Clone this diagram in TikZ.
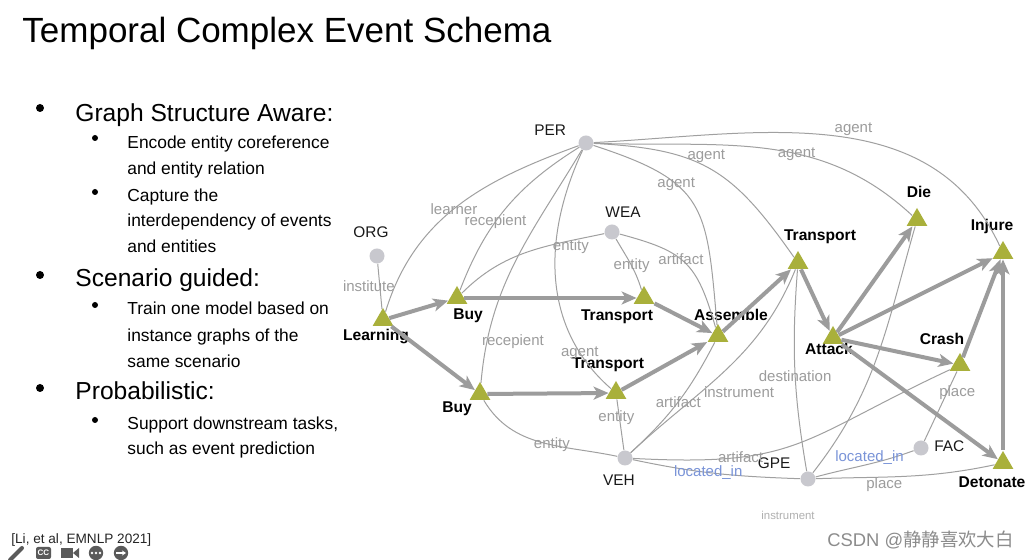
\documentclass[tikz,border=0pt]{standalone}
\usepackage{fontspec}
\setmainfont{Liberation Sans}
\newfontfamily\cjkfont{Noto Sans CJK SC}
\usepackage{tikz}
\usetikzlibrary{positioning, arrows.meta, shapes.geometric}
\definecolor{evgreen}{HTML}{A9B03B}
\definecolor{entgray}{HTML}{C8C8CE}
\definecolor{relgray}{HTML}{A0A0A0}
\definecolor{labgray}{HTML}{9C9C9C}
\definecolor{seqgray}{HTML}{9C9C9C}
\definecolor{locblue}{HTML}{7A94D8}
\definecolor{icongray}{HTML}{5A5A5A}

\begin{document}
\begin{tikzpicture}[x=0.5pt, y=-0.5pt,
	% Estilo para los eventos (triangulos)
	eventbox/.style={
		regular polygon,
		regular polygon sides=3,
		fill=evgreen,
		inner sep=0pt,
		minimum size=12pt
	},
	eventlabel/.style={
		inner sep=1pt,
		font=\fontsize{7.8}{9}\selectfont\bfseries
	},
	% Estilo para las entidades (circulos)
	entitybox/.style={
		circle,
		fill=entgray,
		inner sep=0pt,
		minimum size=7.5pt
	},
	entitylabel/.style={
		inner sep=1pt,
		text=black!90,
		font=\fontsize{7.7}{9}\selectfont
	},
	% Estilo para las relaciones entidad-evento
	relline/.style={
		draw=relgray,
		line width=0.5pt
	},
	rellabel/.style={
		inner sep=1pt,
		text=labgray,
		font=\fontsize{7.5}{9}\selectfont
	},
	loclabel/.style={
		rellabel,
		text=locblue
	},
	% Estilo para el orden temporal
	seqarrow/.style={
		draw=seqgray,
		line width=2pt,
		-{Stealth[length=7.5pt, width=6.5pt, inset=2pt]}
	},
	% Estilo para el texto de la izquierda
	titletext/.style={anchor=base west, inner sep=0pt, font=\fontsize{17.5}{20}\selectfont},
	itemtext/.style={anchor=base west, inner sep=0pt, font=\fontsize{12.3}{15}\selectfont},
	subtext/.style={anchor=base west, inner sep=0pt, font=\fontsize{8.7}{13}\selectfont},
	bigdot/.style={circle, fill=black, inner sep=0pt, minimum size=4pt},
	smalldot/.style={circle, fill=black, inner sep=0pt, minimum size=3pt}
	]
	
	\useasboundingbox (0,0) rectangle (1030,560);
	\fill[white] (0,0) rectangle (1030,560);
	
	% --- Titulo y lista ---
	\node[titletext] (title) at (22,43) {Temporal Complex Event Schema};
	
	\node[bigdot] (b1) at (40,108) {};
	\node[itemtext] (i1) at (75,122) {Graph Structure Aware:};
	\node[smalldot] (b1a) at (95,138) {};
	\node[subtext] (s1a) at (127,149) {Encode entity coreference};
	\node[subtext] (s1b) at (127,175) {and entity relation};
	\node[smalldot] (b1b) at (95,192) {};
	\node[subtext] (s1c) at (127,202) {Capture the};
	\node[subtext] (s1d) at (127,227) {interdependency of events};
	\node[subtext] (s1e) at (127,253) {and entities};
	
	\node[bigdot] (b2) at (40,275) {};
	\node[itemtext] (i2) at (75,287) {Scenario guided:};
	\node[smalldot] (b2a) at (95,305) {};
	\node[subtext] (s2a) at (127,315) {Train one model based on};
	\node[subtext] (s2b) at (127,342) {instance graphs of the};
	\node[subtext] (s2c) at (127,368) {same scenario};
	
	\node[bigdot] (b3) at (40,388) {};
	\node[itemtext] (i3) at (75,400) {Probabilistic:};
	\node[smalldot] (b3a) at (95,420) {};
	\node[subtext] (s3a) at (127,430) {Support downstream tasks,};
	\node[subtext] (s3b) at (127,455) {such as event prediction};
	
	% --- Entidades ---
	\node[entitybox] (per) at (586,143) {};
	\node[entitybox] (org) at (377,256) {};
	\node[entitybox] (wea) at (612,232) {};
	\node[entitybox] (veh) at (625,458) {};
	\node[entitybox] (gpe) at (808,479) {};
	\node[entitybox] (fac) at (921,448) {};
	
	\node[entitylabel, left=4.8pt of per, yshift=6.5pt] (per-l) {PER};
	\node[entitylabel, above=4pt of org, xshift=-3pt] (org-l) {ORG};
	\node[entitylabel, above=2pt of wea, xshift=5.5pt] (wea-l) {WEA};
	\node[entitylabel, below=3.5pt of veh, xshift=-3pt] (veh-l) {VEH};
	\node[entitylabel, left=3.6pt of gpe, yshift=8pt] (gpe-l) {GPE};
	\node[entitylabel, right=1.5pt of fac, yshift=1pt] (fac-l) {FAC};
	
	% --- Eventos ---
	\node[eventbox] (learn) at (383,320) {};
	\node[eventbox] (buya) at (457,298) {};
	\node[eventbox] (tra) at (644,298) {};
	\node[eventbox] (asm) at (718,336) {};
	\node[eventbox] (buyb) at (480,394) {};
	\node[eventbox] (trb) at (616,393) {};
	\node[eventbox] (trc) at (798,263) {};
	\node[eventbox] (atk) at (833,338) {};
	\node[eventbox] (die) at (917,220) {};
	\node[eventbox] (inj) at (1003,253) {};
	\node[eventbox] (crash) at (960,365) {};
	\node[eventbox] (det) at (1003,463) {};
	
	\node[eventlabel, below=0.4pt of learn, xshift=-3.5pt] (learn-l) {Learning};
	\node[eventlabel, below=0.9pt of buya, xshift=5.5pt] (buya-l) {Buy};
	\node[eventlabel, below=1.4pt of tra, xshift=-13.5pt] (tra-l) {Transport};
	\node[eventlabel, above=0.2pt of asm, xshift=6.5pt] (asm-l) {Assemble};
	\node[eventlabel, below=-0.6pt of buyb, xshift=-11.5pt] (buyb-l) {Buy};
	\node[eventlabel, above=2.9pt of trb, xshift=-4pt] (trb-l) {Transport};
	\node[eventlabel, above=1.9pt of trc, xshift=11pt] (trc-l) {Transport};
	\node[eventlabel, below=-1.8pt of atk, xshift=-2pt] (atk-l) {Attack};
	\node[eventlabel, above=3.7pt of die, xshift=1pt] (die-l) {Die};
	\node[eventlabel, above=1.9pt of inj, xshift=-5.5pt] (inj-l) {Injure};
	\node[eventlabel, above=2.7pt of crash, xshift=-9pt] (crash-l) {Crash};
	\node[eventlabel, below=2.7pt of det, xshift=-5.5pt] (det-l) {Detonate};
	
	% --- Relaciones (lineas finas) ---
	\draw[relline] (org) -- (learn) node[rellabel, pos=.5, xshift=-5.5pt] {institute};
	\draw[relline] (learn) to[out=73, in=200] node[rellabel, pos=.48] {learner} (per);
	\draw[relline] (buya) to[out=69, in=212] node[rellabel, pos=.4] {recepient} (per);
	\draw[relline] (buyb) to[out=85, in=239] node[rellabel, pos=.15, xshift=13pt] {recepient} (per);
	\draw[relline] (trb) to[out=139, in=245] node[rellabel, pos=.18] {agent} (per);
	\draw[relline] (per) to[out=-18, in=95, looseness=1.4] node[rellabel, pos=.35] {agent} (asm);
	\draw[relline] (per) to[out=-3, in=125, looseness=1.2] node[rellabel, pos=.45, xshift=2pt, yshift=4pt] {agent} (trc);
	\draw[relline] (per) to[out=-2, in=137] node[rellabel, pos=.6] {agent} (die);
	\draw[relline] (per) to[out=3, in=115] node[rellabel, pos=.55, yshift=4.5pt] {agent} (inj);
	
	\draw[relline] (wea) to[out=192, in=45] node[rellabel, pos=.2, yshift=-3pt] {entity} (buya);
	\draw[relline] (wea) to[out=-60, in=107] node[rellabel, pos=.55] {entity} (tra);
	\draw[relline] (wea) to[out=-15, in=106, looseness=1.3] node[rellabel, pos=.45] {artifact} (asm);
	
	\draw[relline] (veh) to[out=168, in=-59] node[rellabel, pos=.42] {entity} (buyb);
	\draw[relline] (veh) -- (trb) node[rellabel, pos=.65, xshift=-1.5pt] {entity};
	\draw[relline] (veh) to[bend right=10] node[rellabel, pos=.5] {artifact} (asm);
	\draw[relline] (veh) to[out=43, in=248] node[rellabel, pos=.36, anchor=west] {instrument} (trc);
	\draw[relline] (veh) to[out=-3, in=205, looseness=1.3] node[rellabel, pos=.28] {artifact} (crash);
	\draw[relline] (veh) to[out=-12, in=178] node[loclabel, pos=.45] {located\_in} (gpe);
	
	\draw[relline] (gpe) to[bend left=7] node[rellabel, pos=.47] {destination} (trc);
	\draw[relline] (gpe) to[out=52, in=254] (die);
	\draw[relline] (gpe) to[out=15, in=200] node[loclabel, pos=.55, yshift=3pt] {located\_in} (fac);
	\draw[relline] (gpe) to[out=2, in=192] node[rellabel, pos=.37, yshift=-4pt] {place} (det);
	\draw[relline] (fac) -- (crash) node[rellabel, pos=.7, xshift=5pt] {place};
	
	\node[rellabel, text=labgray!80, font=\fontsize{5.7}{7}\selectfont] (gpe-note) at (788,515) {instrument};
	
	% --- Orden temporal (flechas gruesas) ---
	\draw[seqarrow] (learn) -- (buya);
	\draw[seqarrow] (learn) -- (buyb);
	\draw[seqarrow] (buya) -- (tra);
	\draw[seqarrow] (buyb) -- (trb);
	\draw[seqarrow] (tra) -- (asm);
	\draw[seqarrow] (trb) -- (asm);
	\draw[seqarrow] (asm) -- (trc);
	\draw[seqarrow] (trc) -- (atk);
	\draw[seqarrow] (atk) -- (die);
	\draw[seqarrow] (atk) -- (inj);
	\draw[seqarrow] (atk) -- (crash);
	\draw[seqarrow] (atk) -- (det);
	\draw[seqarrow] (crash) -- (inj);
	\draw[seqarrow] (det) -- (inj);
	
	% --- Pie de pagina ---
	\node[anchor=base west, inner sep=0pt, text=black!85, font=\fontsize{6.8}{8}\selectfont] (cite) at (11,544) {[Li, et al, EMNLP 2021]};
	\node[anchor=base west, inner sep=0pt, text=black!45, font=\fontsize{9.2}{11}\selectfont] (mark) at (827,547) {CSDN @{\cjkfont 静静喜欢大白}};
	
	% iconos del reproductor
	\draw[icongray, line width=2pt, line cap=round] (10,560) -- (22,548);
	\fill[icongray, rounded corners=1pt] (36,547) rectangle (51,559);
	\node[inner sep=0pt, text=white, font=\fontsize{4}{4}\selectfont\bfseries] (cc) at (43.5,553) {CC};
	\fill[icongray] (61,548) rectangle (73,558);
	\fill[icongray] (73,553) -- (79,548) -- (79,558) -- cycle;
	\fill[icongray] (96,553) circle (3.6pt);
	\foreach \d in {92,96,100}
		\fill[white] (\d,553) circle (0.7pt);
	\fill[icongray] (121,553) circle (3.6pt);
	\draw[white, line width=0.8pt, -{Stealth[length=2pt, width=2.5pt]}] (116,553) -- (126,553);
	
\end{tikzpicture}
\end{document}
